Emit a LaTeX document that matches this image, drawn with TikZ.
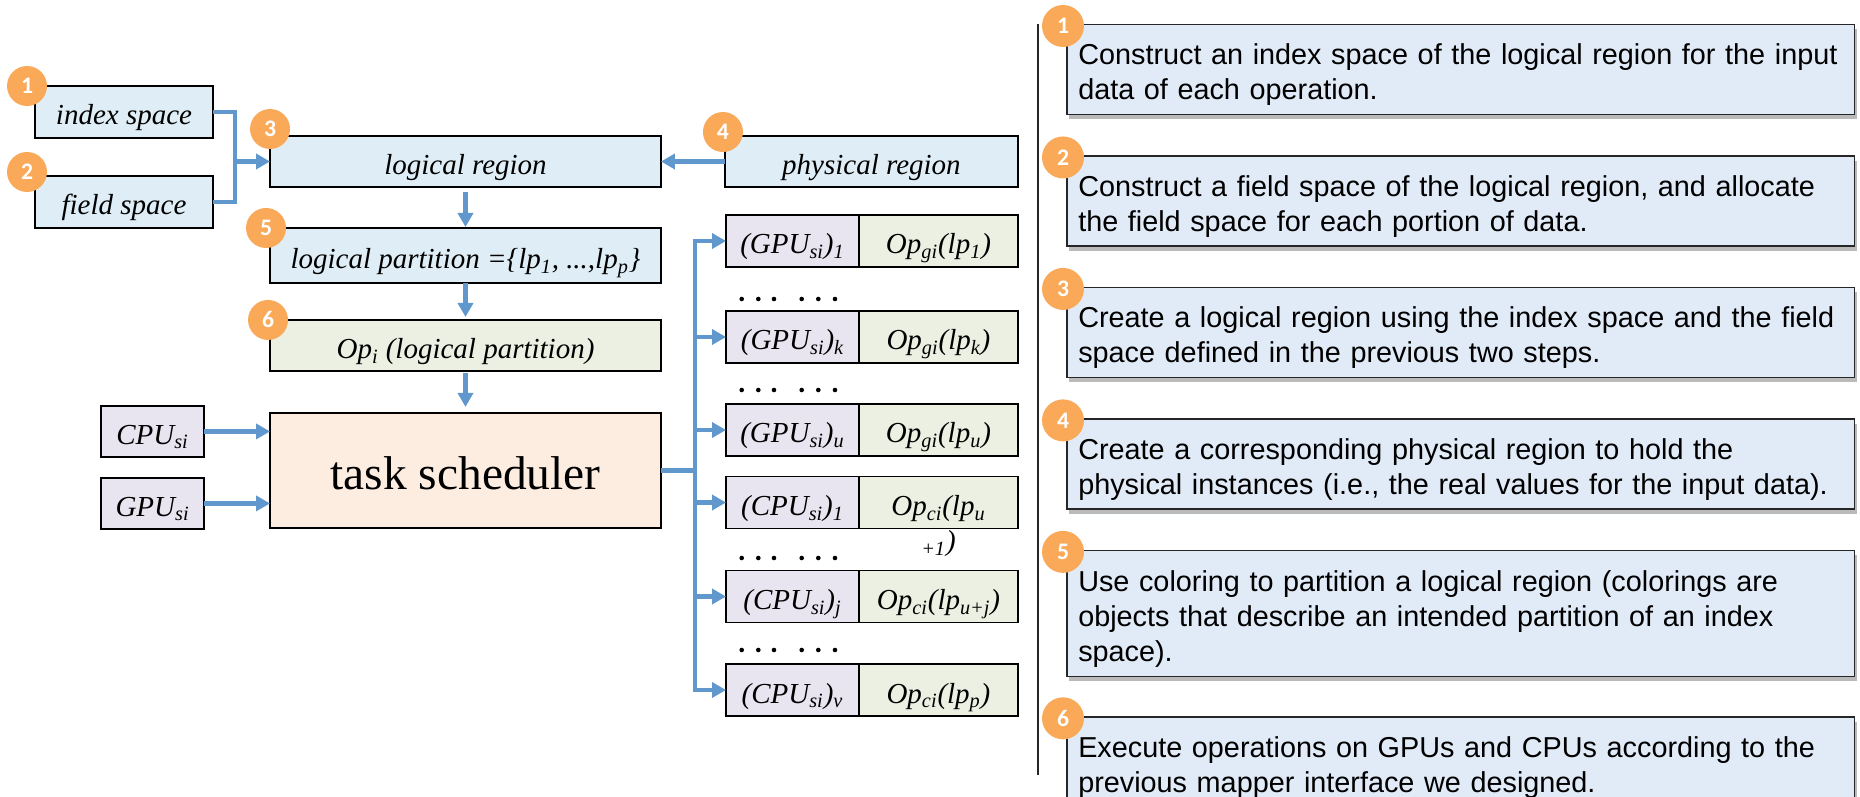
\documentclass[tikz,border=0pt]{standalone}
\usepackage{fontspec}
\setmainfont{Liberation Serif}
\newfontfamily\stepsans{Liberation Sans}
\newfontfamily\badgesans{Carlito}
\usepackage{tikz}
\usetikzlibrary{arrows.meta,calc,positioning,shadows}
\definecolor{regionblue}{HTML}{DFEEF6}
\definecolor{stepblue}{HTML}{E1EBF7}
\definecolor{unitlilac}{HTML}{E9E5F0}
\definecolor{opgreen}{HTML}{EBF0E2}
\definecolor{schedpeach}{HTML}{FDEDE1}
\definecolor{badgeorange}{HTML}{F9A957}
\definecolor{flowblue}{HTML}{6097CD}
\newcommand{\regfont}{\fontsize{16.5}{19}\selectfont\itshape}
\newcommand{\schedfont}{\fontsize{27}{31}\selectfont}
\hyphenpenalty=10000

\begin{document}
\begin{tikzpicture}[x=0.02cm,y=-0.02cm,
    box/.style={draw=black,line width=1.1pt,inner sep=0pt,outer sep=0pt,text height=0.52cm,text depth=0pt,font=\regfont},
    region/.style={box,fill=regionblue},
    unit/.style={box,fill=unitlilac},
    opcell/.style={box,fill=opgreen},
    gcell/.style={unit,minimum width=2.66cm,minimum height=1.04cm},
    ocell/.style={opcell,minimum width=3.18cm,minimum height=1.04cm},
    badge/.style={circle,fill=badgeorange,text=white,minimum size=0.8cm,inner sep=0pt,font=\badgesans\bfseries\fontsize{13.5}{14}\selectfont},
    conn/.style={flowblue,line width=2.4pt},
    arr/.style={conn,-{Triangle[length=0.28cm,width=0.3cm]}},
    stepbox/.style={draw=black!85,line width=0.85pt,fill=stepblue,text width=15.3cm,inner xsep=0.23cm,minimum height=1.8cm,align=left,
      font=\stepsans\fontsize{16.4}{19.9}\selectfont,execute at begin node={\rule{0pt}{0.62cm}},
      drop shadow={shadow xshift=0.05cm,shadow yshift=-0.09cm,fill=black!60,opacity=0.45}}]
    \useasboundingbox (0,0) rectangle (1860,797);
    \clip (0,0) rectangle (1860,797);

    % regions and partition
    \node[region,minimum width=3.56cm,minimum height=1.04cm] (idx) at (124,112) {index space};
    \node[region,minimum width=3.56cm,minimum height=1.04cm,below=0.76cm of idx] (fld) {field space};
    \node[region,minimum width=7.82cm,minimum height=1.02cm] (lreg) at (465.5,161.5) {logical region};
    \node[region,minimum width=5.86cm,minimum height=1.02cm,right=1.28cm of lreg] (preg) {physical region};
    \node[region,minimum width=7.82cm,minimum height=1.1cm,below=0.82cm of lreg] (lpart)
      {logical partition =\{lp\textsubscript{1}, ...,lp\textsubscript{p}\}};
    \node[opcell,minimum width=7.82cm,minimum height=1.02cm,below=0.74cm of lpart] (opi)
      {Op\textsubscript{i} (logical partition)};
    \node[box,fill=schedpeach,font=\schedfont,text height=0.78cm,minimum width=7.82cm,minimum height=2.3cm,below=0.84cm of opi] (sched)
      {task scheduler};
    \node[unit,minimum width=2.06cm,minimum height=1.02cm,left=1.32cm of sched.west,yshift=0.78cm] (cpu) {CPU\textsubscript{si}};
    \node[unit,minimum width=2.06cm,minimum height=1.02cm,left=1.32cm of sched.west,yshift=-0.66cm] (gpu) {GPU\textsubscript{si}};

    % processor / operation pairs
    \node[gcell] (g1) at (792.5,241) {(GPU\textsubscript{si})\textsubscript{1}};
    \node[ocell,right=0pt of g1] (o1) {Op\textsubscript{gi}(lp\textsubscript{1})};
    \node[gcell] (g2) at (792.5,337) {(GPU\textsubscript{si})\textsubscript{k}};
    \node[ocell,right=0pt of g2] (o2) {Op\textsubscript{gi}(lp\textsubscript{k})};
    \node[gcell] (g3) at (792.5,430) {(GPU\textsubscript{si})\textsubscript{u}};
    \node[ocell,right=0pt of g3] (o3) {Op\textsubscript{gi}(lp\textsubscript{u})};
    \node[gcell] (g4) at (792.5,502.5) {(CPU\textsubscript{si})\textsubscript{1}};
    \node[ocell,right=0pt of g4] (o4)
      {\smash{\begin{tabular}[t]{@{}c@{}}Op\textsubscript{ci}(lp\textsubscript{u}\\[1pt]\textsubscript{+1})\end{tabular}}};
    \node[gcell] (g5) at (792.5,596.5) {(CPU\textsubscript{si})\textsubscript{j}};
    \node[ocell,right=0pt of g5] (o5) {Op\textsubscript{ci}(lp\textsubscript{u+j})};
    \node[gcell] (g6) at (792.5,690) {(CPU\textsubscript{si})\textsubscript{v}};
    \node[ocell,right=0pt of g6] (o6) {Op\textsubscript{ci}(lp\textsubscript{p})};
    \foreach \y in {299,390,558,650}
      \foreach \x in {741.7,758.3,774,801.7,818.3,835}
        \fill (\x,\y) circle (0.046cm);

    % connectors
    \coordinate (brk) at ($(idx.east |- lreg.west)+(22,0)$);
    \draw[conn] (idx.east) -| (brk) |- (fld.east);
    \draw[arr] (brk) -- (lreg.west);
    \draw[arr] (preg.west) -- (lreg.east);
    \draw[arr,shorten <=0.1cm,shorten >=0.02cm] (lreg) -- (lpart);
    \draw[arr,shorten >=0.06cm] (lpart) -- (opi);
    \draw[arr,shorten <=0.04cm,shorten >=0.12cm] (opi) -- (sched);
    \draw[arr] (cpu.east) -- (cpu.east -| sched.west);
    \draw[arr] (gpu.east) -- (gpu.east -| sched.west);
    \coordinate (fork) at ($(sched.east)+(34,0)$);
    \draw[conn] (sched.east) -- (fork);
    \draw[conn,line cap=rect] (fork |- g1.west) -- (fork |- g6.west);
    \foreach \r in {1,...,6}
      \draw[arr] (fork |- g\r.west) -- (g\r.west);

    % step list
    \draw[line width=0.95pt,black!85] (1038,24) -- (1038,775);
    \node[stepbox,anchor=north west] (s1) at (1066,24)
      {Construct an index space of the logical region for the input\\data of each operation.};
    \node[stepbox,below=0.8cm of s1] (s2)
      {Construct a field space of the logical region, and allocate\\the field space for each portion of data.};
    \node[stepbox,below=0.8cm of s2] (s3)
      {Create a logical region using the index space and the field\\space defined in the previous two steps.};
    \node[stepbox,below=0.8cm of s3] (s4)
      {Create a corresponding physical region to hold the\\physical instances (i.e., the real values for the input data).};
    \node[stepbox,minimum height=2.52cm,below=0.8cm of s4] (s5)
      {Use coloring to partition a logical region (colorings are\\objects that describe an intended partition of an index\\space).};
    \node[stepbox,below=0.78cm of s5] (s6)
      {Execute operations on GPUs and CPUs according to the\\previous mapper interface we designed.};

    % numbered badges
    \node[badge] (b1) at ([xshift=-0.16cm]idx.north west) {1};
    \node[badge] (b2) at ([xshift=-0.16cm,yshift=0.08cm]fld.north west) {2};
    \node[badge] (b3) at ([yshift=0.14cm]lreg.north west) {3};
    \node[badge] (b4) at ([xshift=-0.04cm,yshift=0.08cm]preg.north west) {4};
    \node[badge] (b5) at ([xshift=-0.08cm]lpart.north west) {5};
    \node[badge] (b6) at ([xshift=-0.04cm]opi.north west) {6};
    \foreach \i in {1,...,6}
      \node[badge,minimum size=0.84cm] (t\i) at ([xshift=-0.06cm,yshift=-0.04cm]s\i.north west) {\i};
  \end{tikzpicture}
\end{document}
